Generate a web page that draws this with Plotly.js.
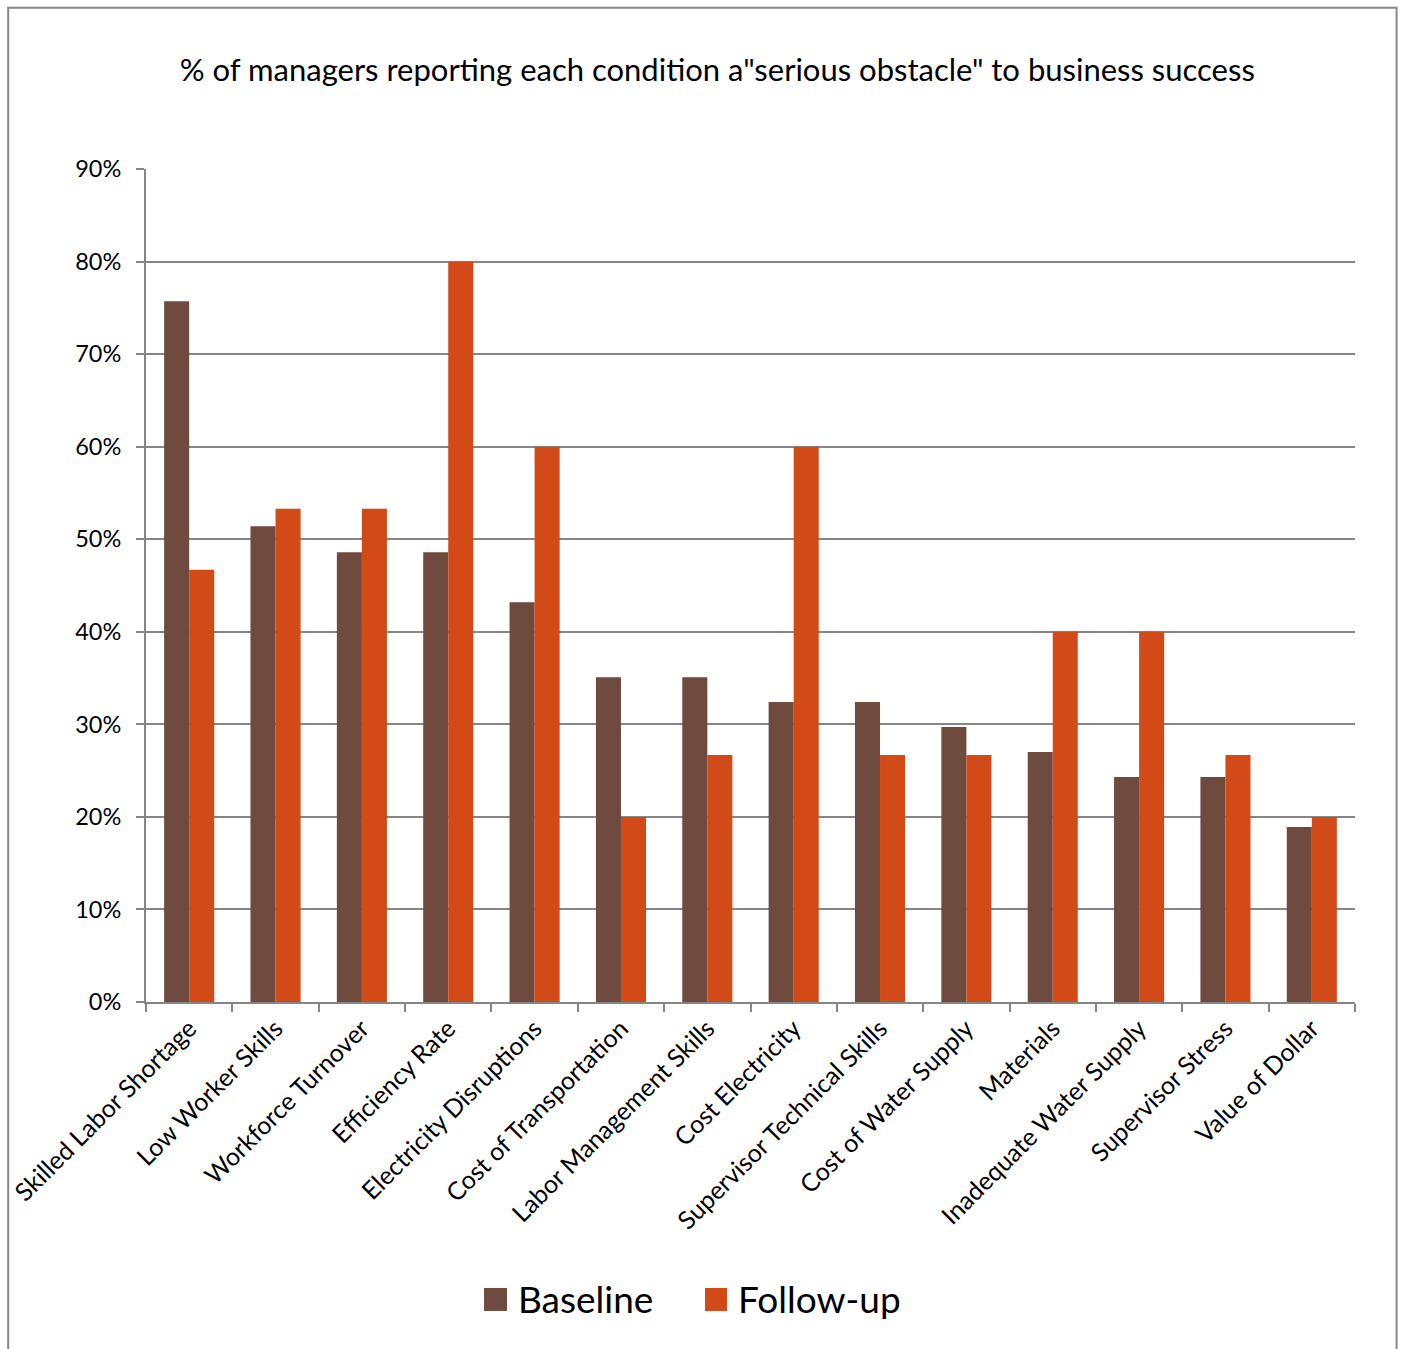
<!DOCTYPE html>
<html>
<head>
<meta charset="utf-8">
<script src="https://cdn.plot.ly/plotly-3.0.1.min.js"></script>
<style>html,body{margin:0;padding:0;background:#fff}</style>
</head>
<body>
<div id="chart" style="width:1401px;height:1349px"></div>
<script>
const categories = ["Skilled Labor Shortage","Low Worker Skills","Workforce Turnover","Efficiency Rate","Electricity Disruptions","Cost of Transportation","Labor Management Skills","Cost Electricity","Supervisor Technical Skills","Cost of Water Supply","Materials","Inadequate Water Supply","Supervisor Stress","Value of Dollar"];
const baseline = [0.757,0.514,0.486,0.486,0.432,0.351,0.351,0.324,0.324,0.297,0.270,0.243,0.243,0.189];
const followup = [0.467,0.533,0.533,0.800,0.600,0.200,0.267,0.600,0.267,0.267,0.400,0.400,0.267,0.200];
const yTicks = [0,0.1,0.2,0.3,0.4,0.5,0.6,0.7,0.8,0.9];
const seriesNames = ["Baseline","Follow-up"];
const seriesColors = ["#6F4A3E","#D24A18"];

const font = "Lato, 'Open Sans', sans-serif";
const traces = [
  {type:"bar", name:seriesNames[0], x:categories, y:baseline, marker:{color:seriesColors[0]}},
  {type:"bar", name:seriesNames[1], x:categories, y:followup, marker:{color:seriesColors[1]}}
];

// legend drawn as swatches + text (to match the large square keys)
const legendSwatchX = [[0.2796,0.2986],[0.4624,0.4806]];
const legendTextX = [0.3069,0.4888];
const legendShapes = seriesColors.map((c,i)=>({type:"rect", xref:"paper", yref:"paper", x0:legendSwatchX[i][0], x1:legendSwatchX[i][1], y0:-0.3709, y1:-0.3433, line:{width:0}, fillcolor:c}));
const legendAnnotations = seriesNames.map((n,i)=>({xref:"paper", yref:"paper", x:legendTextX[i], y:-0.3565, xanchor:"left", yanchor:"middle", text:n, showarrow:false, font:{size:37, family:font, color:"#000"}, borderpad:0}));

const layout = {
  width:1401, height:1349,
  margin:{l:146, r:46, t:169, b:347},
  paper_bgcolor:"#fff", plot_bgcolor:"#fff",
  font:{family:font, color:"#000"},
  showlegend:false,
  title:{text:'% of managers reporting each condition a"serious obstacle" to business success', font:{size:31, family:font, color:"#000"}, x:0.512, xanchor:"center", y:0.948, yanchor:"middle"},
  barmode:"group", bargap:0.42, bargroupgap:0,
  xaxis:{type:"category", tickangle:-45, tickfont:{size:25, family:font}, showline:true, linecolor:"#868686", linewidth:2, ticks:"outside", ticklen:8, tickcolor:"#868686", tickwidth:2, tickson:"boundaries", showgrid:false, automargin:false},
  yaxis:{range:[0,0.9], tickvals:yTicks, tickformat:".0%", tickfont:{size:23.5, family:font}, ticklabelstandoff:10, showline:true, linecolor:"#868686", linewidth:2, ticks:"outside", ticklen:8, tickcolor:"#868686", tickwidth:2, showgrid:true, gridcolor:"#868686", gridwidth:2, zeroline:false, automargin:false},
  annotations:legendAnnotations,
  shapes:[{type:"rect", xref:"paper", yref:"paper", x0:-0.114, x1:1.0344, y0:-0.42, y1:1.1935, line:{color:"#868686", width:2}, fillcolor:"rgba(0,0,0,0)", layer:"below"}].concat(legendShapes)
};
Plotly.newPlot("chart", traces, layout, {displayModeBar:false});
</script>
</body>
</html>
